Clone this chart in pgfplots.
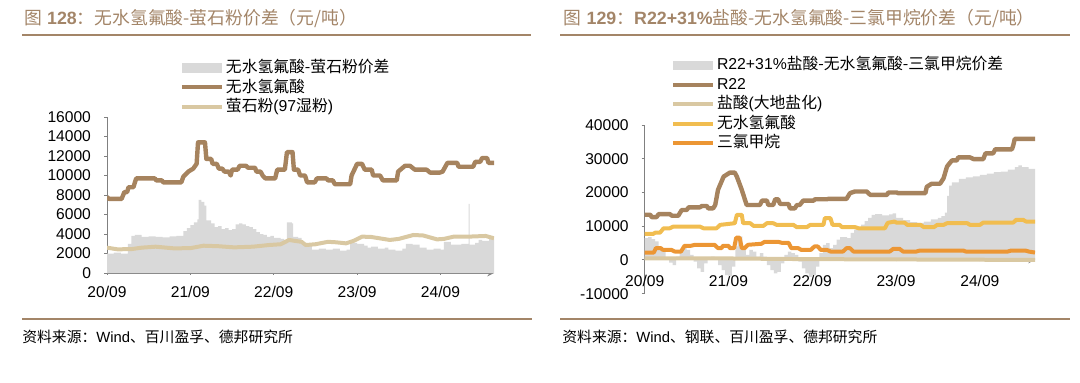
\documentclass[border=0pt]{standalone}
\usepackage{fontspec}
\setmainfont{Liberation Sans}
\newfontfamily\cjk{Noto Sans CJK SC}
\usepackage{pgfplots}
\pgfplotsset{compat=1.18}
\usepackage{pgfplotstable}

\definecolor{titlebrown}{RGB}{163,133,104}
\definecolor{hfbrown}{RGB}{166,131,94}
\definecolor{tan}{RGB}{217,200,162}
\definecolor{spreadgray}{RGB}{217,217,217}
\definecolor{hfyellow}{RGB}{241,189,80}
\definecolor{cforange}{RGB}{236,150,52}
\definecolor{axisgray}{RGB}{128,128,128}

% ---------- left chart data (x = months since 2020-09) ----------
\pgfplotstableread{
x y
0 0
0 2000
1 2100
2 2000
3 3000
3.5 3800
4 3900
5 3700
6 3750
7 3700
8 3650
9 3750
10 3800
11 4300
11.5 4600
12 4900
12.5 5200
13 5500
13.2 7500
13.6 7300
14 6900
14.3 5400
15 5100
15.5 4700
16 4800
16.5 4500
17 4600
17.5 4400
18 4500
18.5 5000
19 5100
19.5 5000
20 4800
20.5 4700
21 4500
21.5 4200
22 4000
22.5 3900
23 3700
23.5 3800
24 3600
25 3500
25.5 3400
25.9 5200
26.6 5100
26.8 3700
27.5 3600
28 3000
28.5 2900
29 2800
29.5 2400
30.5 2500
31.5 2400
32.5 2500
33.5 2300
34.5 2400
35 3200
35.5 3100
36 3000
37 2800
37.5 2600
38 2700
39 2500
40 2600
40.5 2400
41.5 2300
42.5 2500
43 3000
44 2900
45 2600
46 2400
47 2500
48 2400
48.5 3200
49.5 2900
51 3000
52 2900
52.05 7100
52.2 2900
53 3100
53.5 3400
54 3300
55 3500
55.7 3400
55.7 0
}\leftspread

\pgfplotstableread{
x y
0 7800
0.3 7600
2.1 7600
2.5 8300
2.9 8300
3.1 8800
3.8 8800
4.2 9700
6.9 9700
7.1 9500
7.9 9500
8.1 9300
10.7 9300
11.0 9900
11.7 10400
12.4 10700
12.9 11200
13.1 13400
14.1 13400
14.3 11700
15.0 11700
15.2 11200
15.8 11200
16.1 10700
16.6 10700
16.9 10400
17.5 10400
17.8 10000
18.0 10600
18.8 10600
19.1 11000
20.0 11000
20.3 10800
21.3 10800
21.5 10400
22.1 10400
22.4 10000
22.8 9700
24.2 9700
24.5 10600
25.6 10600
25.9 12400
26.7 12400
26.9 10600
27.5 10600
27.8 10000
28.5 10000
28.8 9300
29.9 9300
30.2 9700
31.6 9700
31.8 9500
32.5 9500
32.8 9100
35.0 9100
35.2 10000
36.0 11200
36.7 11200
37.1 10600
38.1 10600
38.3 10000
39.3 10000
39.7 9500
41.7 9500
41.9 10400
42.9 11000
43.6 11000
44.3 10600
46.0 10600
46.5 10300
47.9 10300
48.3 10400
49.0 11300
50.4 11300
50.6 10900
52.7 10900
53.0 11400
53.7 11400
54.0 11800
54.7 11800
54.9 11300
55.7 11300
}\hfdata

\pgfplotstableread{
x y
0 2600
1.5 2430
3.5 2450
5 2600
7 2700
9.6 2530
12 2550
13.9 2800
16 2750
18.3 2630
21 2700
23.3 2870
25 2950
26.2 3390
27 3300
28 3200
28.6 2870
30 2950
31.8 3200
33 3150
34.4 3040
35.5 3300
36.7 3730
38 3700
40.7 3390
42 3500
44.1 3900
45.5 3850
47.5 3450
48.5 3500
49.9 3730
52 3730
54.5 3800
55.7 3560
}\fluorspar

% ---------- right chart data ----------
\pgfplotstableread{
x y
0 0
0 6500
0.5 6800
1 6200
1.5 5500
2 4000
2.5 2500
3 500
3.5 -800
4 -1500
4.5 1000
5 2500
5.5 3500
6 3000
6.5 1500
7 -500
7.5 -2500
8 -3500
8.5 -1000
9 500
9.5 1000
10 0
10.5 -1500
11 -3000
11.5 -4500
12 -4800
12.5 -2000
13 4000
13.3 6500
13.6 7000
14 3000
14.5 1500
15 3000
15.5 2500
16 1000
16.5 2000
17 1000
17.5 -1500
18 -3000
18.5 -4000
19 -3500
19.5 -1000
20 1500
20.5 2500
21 2000
21.5 1500
22 -500
22.5 -2500
23 -4000
23.5 -5000
24 -4500
24.5 -2000
25 2000
25.5 4500
26 5000
26.5 3500
27 4500
27.5 6000
28 6800
29 6500
29.5 8000
30 9000
30.5 9800
31 10500
31.5 11500
32 12500
32.5 13400
33 13600
34 13200
35 13500
35.5 13800
36 12500
37 11800
38 11200
39 11000
40 11400
41 12000
42 12500
42.5 13000
43 14000
43.3 19000
43.6 22000
44 23000
45 24000
46 24500
47 24800
48 25200
49 25600
50 26000
51 26200
52 26800
53 27500
53.5 28000
54 27500
55 27000
55.9 26500
55.9 0
}\rightspread

\pgfplotstableread{
x y
0 13400
0.8 13400
1.0 12700
1.7 12700
2.0 13600
3.6 13600
3.9 13100
4.8 13100
5.3 14800
6.0 14800
6.3 15600
7.9 15600
8.2 16000
8.9 16000
9.1 15300
9.8 15300
10.1 16300
10.5 20800
11.3 24700
12.2 25900
12.9 25900
13.2 24700
13.9 20800
14.6 16300
16.5 16300
16.8 17600
17.5 17600
17.7 16300
18.4 16300
18.7 18000
19.1 18000
19.4 16600
20.6 16600
20.8 15300
21.5 15300
21.8 16300
22.2 16300
22.7 17600
24.2 17600
24.4 18000
26.1 18000
26.3 18100
28.9 18100
29.4 19800
30.1 20300
31.8 20300
32.3 19300
34.7 19300
34.9 20000
36.1 20000
36.3 19800
40.2 19800
40.4 21700
41.1 22600
42.3 22600
42.8 24200
43.3 27700
44.0 29500
44.7 29500
44.9 30400
46.6 30400
47.1 29900
48.5 29900
48.8 31600
49.9 31600
50.2 32800
52.6 32800
52.8 34100
53.0 35900
55.9 35900
}\rtwotwo

\pgfplotstableread{
x y
0 500
12 450
20 300
30 200
45 100
55.9 0
}\hcl

\pgfplotstableread{
x y
0 7700
1.2 7700
1.5 8100
2.2 8100
2.7 9400
3.6 9400
4.1 9900
7.9 9900
8.4 9400
10.3 9400
10.8 10400
12.9 10900
13.2 13400
13.9 13400
14.1 10900
15.1 10900
15.6 10100
17.0 10100
17.5 10900
18.4 10900
18.9 10400
21.3 10400
21.8 9700
23.2 9700
23.7 10400
25.6 10400
25.8 12400
26.6 12400
26.9 10400
27.9 10400
28.3 9700
30.2 9700
30.6 9400
34.4 9400
34.8 11000
35.8 11400
36.0 11100
37.2 11100
37.6 10400
39.5 10400
40.0 9700
41.4 9700
41.9 10400
42.8 10400
43.3 10900
46.2 10900
46.6 10400
48.0 10400
48.5 11100
52.8 11100
53.2 11900
54.2 11900
54.6 11400
55.9 11400
}\hfright

\pgfplotstableread{
x y
0 2200
1.3 2200
1.6 3500
2.3 3500
2.6 3000
3.8 3000
4.3 2500
5.2 2500
5.7 4200
6.6 4200
7.2 4500
10.0 4500
10.5 3500
11.0 3500
11.2 4200
12.0 4200
12.2 3500
12.8 3500
13.1 6600
13.6 6600
13.9 3500
14.3 3500
14.8 4500
16.7 4800
17.2 5400
19.1 5400
19.6 5100
20.6 5100
21.0 3500
22.0 3500
22.4 3000
23.8 3000
24.3 4000
24.8 4000
25.2 3000
26.1 3000
26.6 2500
28.4 2500
28.9 3500
29.4 3500
29.9 2500
35.1 2500
35.6 3300
36.5 3300
37.0 2500
38.9 2500
39.4 2800
45.6 2800
46.0 2500
52.0 2500
52.5 2800
54.5 2800
55.0 2500
55.9 2200
}\chloroform

\pgfplotsset{
  panel/.style={
    scale only axis,
    axis y line=left,
    axis line style={draw=axisgray, line width=0.5pt, -},
    tick style={draw=axisgray, line width=0.5pt},
    major tick length=1.5pt,
    tick align=outside,
    xtick={0,12,24,36,48},
    xticklabels={20/09,21/09,22/09,23/09,24/09},
    ticklabel style={font=\fontsize{7.8}{9}\selectfont},
    /pgf/number format/assume math mode=true,
    /pgf/number format/1000 sep={},
    scaled y ticks=false,
    yticklabel style={xshift=-3pt},
    legend cell align=left,
    legend image code/.code={\draw[##1, line width=2pt] (0pt,0pt) -- (20pt,0pt);},
    legend style={draw=none, fill=none, inner sep=0pt, outer sep=0pt,
      row sep=1.75pt, font=\fontsize{7.9}{9.5}\selectfont,
      nodes={inner xsep=1pt, inner ysep=0pt, text height=6.3pt, text depth=1.7pt}},
  },
  arealeg/.style={legend image code/.code={\fill[spreadgray] (0pt,-2.3pt) rectangle (20pt,2.3pt);}},
}

\begin{document}
\begin{tikzpicture}
\begin{scope}[x=0.5pt,y=-0.5pt]
  \useasboundingbox (0,0) rectangle (1080,382);
  % titles
  \node[anchor=base west, inner sep=0pt, text=titlebrown, font=\fontsize{8.9}{10}\selectfont] at (24,24)
    {{\cjk 图} {\bfseries 128}{\cjk ：无水氢氟酸-萤石粉价差（元/吨）}};
  \node[anchor=base west, inner sep=0pt, text=titlebrown, font=\fontsize{8.9}{10}\selectfont] at (563.5,24)
    {{\cjk 图} {\bfseries 129}{\cjk ：}{\bfseries R22+31\%}{\cjk 盐酸-无水氢氟酸-三氯甲烷价差（元/吨）}};
  \draw[titlebrown, line width=1pt] (22,34.5) -- (531,34.5);
  \draw[titlebrown, line width=1pt] (560,34.5) -- (1070,34.5);
  \draw[titlebrown, line width=1pt] (22,319) -- (532,319);
  \draw[titlebrown, line width=1pt] (560,319) -- (1070,319);
  % sources
  \node[anchor=base west, inner sep=0pt, font=\fontsize{7.4}{9}\selectfont] at (22,342)
    {{\cjk 资料来源：}Wind{\cjk 、百川盈孚、德邦研究所}};
  \node[anchor=base west, inner sep=0pt, font=\fontsize{7.4}{9}\selectfont] at (562,342)
    {{\cjk 资料来源：}Wind{\cjk 、钢联、百川盈孚、德邦研究所}};
\end{scope}

% ---------- left chart ----------
\begin{axis}[panel,
  at={(53.5pt,-136.5pt)}, anchor=south west,
  width=193.5pt, height=78pt,
  axis x line=bottom,
  xmin=0, xmax=55.7, ymin=0, ymax=16000,
  ytick={0,2000,...,16000},
  xticklabel style={yshift=-2.4pt},
  legend style={at={(axis description cs:0.1886,1.366)}, anchor=north west},
]
\addplot[fill=spreadgray, draw=none, const plot, arealeg] table {\leftspread};
\addlegendentry{{\cjk 无水氢氟酸-萤石粉价差}}
\addplot[hfbrown, line width=2.2pt, line join=round] table {\hfdata};
\addlegendentry{{\cjk 无水氢氟酸}}
\addplot[tan, line width=2pt, line join=round] table {\fluorspar};
\addlegendentry{{\cjk 萤石粉}(97{\cjk 湿粉})}
\end{axis}

% ---------- right chart ----------
\begin{axis}[panel,
  at={(322.35pt,-146.85pt)}, anchor=south west,
  width=195.15pt, height=84.35pt,
  axis x line=middle,
  hide obscured x ticks=false,
  xmin=0, xmax=55.9, ymin=-10000, ymax=40000,
  ytick={-10000,0,...,40000},
  xticklabel style={yshift=-3.1pt},
  legend style={at={(axis description cs:0.0674,1.402)}, anchor=north west},
]
\addplot[fill=spreadgray, draw=none, const plot, arealeg] table {\rightspread};
\addlegendentry{R22+31\%{\cjk 盐酸-无水氢氟酸-三氯甲烷价差}}
\addplot[hfbrown, line width=2.2pt, line join=round] table {\rtwotwo};
\addlegendentry{R22}
\addplot[tan, line width=2pt, line join=round] table {\hcl};
\addlegendentry{{\cjk 盐酸}({\cjk 大地盐化})}
\addplot[hfyellow, line width=2pt, line join=round] table {\hfright};
\addlegendentry{{\cjk 无水氢氟酸}}
\addplot[cforange, line width=2pt, line join=round] table {\chloroform};
\addlegendentry{{\cjk 三氯甲烷}}
\end{axis}
\end{tikzpicture}
\end{document}
